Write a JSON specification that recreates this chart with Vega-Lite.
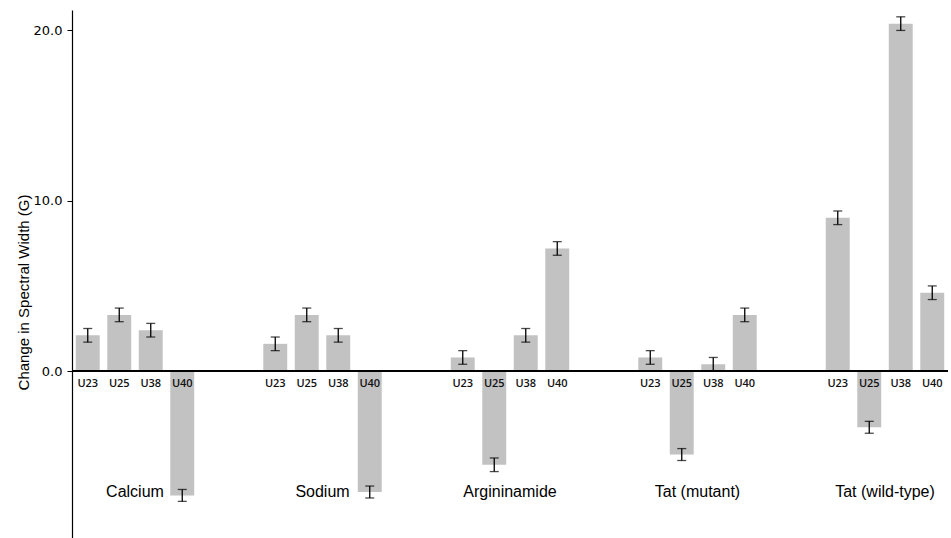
{
  "$schema": "https://vega.github.io/schema/vega-lite/v6.json",
  "width": 876,
  "height": 528,
  "autosize": "none",
  "padding": {"left": 72, "top": 10, "right": 3, "bottom": 0},
  "background": "white",
  "config": {"view": {"stroke": null}},
  "data": {
    "values": [
      {"group": "Calcium", "site": "U23", "value": 2.1, "err": 0.4},
      {"group": "Calcium", "site": "U25", "value": 3.3, "err": 0.4},
      {"group": "Calcium", "site": "U38", "value": 2.4, "err": 0.4},
      {"group": "Calcium", "site": "U40", "value": -7.3, "err": 0.35},
      {"group": "Sodium", "site": "U23", "value": 1.6, "err": 0.4},
      {"group": "Sodium", "site": "U25", "value": 3.3, "err": 0.4},
      {"group": "Sodium", "site": "U38", "value": 2.1, "err": 0.4},
      {"group": "Sodium", "site": "U40", "value": -7.1, "err": 0.35},
      {"group": "Argininamide", "site": "U23", "value": 0.8, "err": 0.4},
      {"group": "Argininamide", "site": "U25", "value": -5.5, "err": 0.4},
      {"group": "Argininamide", "site": "U38", "value": 2.1, "err": 0.4},
      {"group": "Argininamide", "site": "U40", "value": 7.2, "err": 0.4},
      {"group": "Tat (mutant)", "site": "U23", "value": 0.8, "err": 0.4},
      {"group": "Tat (mutant)", "site": "U25", "value": -4.9, "err": 0.35},
      {"group": "Tat (mutant)", "site": "U38", "value": 0.4, "err": 0.4},
      {"group": "Tat (mutant)", "site": "U40", "value": 3.3, "err": 0.4},
      {"group": "Tat (wild-type)", "site": "U23", "value": 9.0, "err": 0.4},
      {"group": "Tat (wild-type)", "site": "U25", "value": -3.3, "err": 0.35},
      {"group": "Tat (wild-type)", "site": "U38", "value": 20.4, "err": 0.4},
      {"group": "Tat (wild-type)", "site": "U40", "value": 4.6, "err": 0.4}
    ]
  },
  "encoding": {
    "x": {
      "field": "group",
      "type": "nominal",
      "sort": null,
      "axis": null,
      "scale": {"paddingInner": 0.328, "paddingOuter": 0}
    }
  },
  "layer": [
    {
      "mark": {"type": "bar", "color": "#c2c2c2"},
      "encoding": {
        "xOffset": {"field": "site", "type": "nominal", "scale": {"paddingInner": 0.24, "paddingOuter": 0.12}},
        "y": {
          "field": "value",
          "type": "quantitative",
          "title": "Change in Spectral Width (G)",
          "scale": {"domain": [-9.8, 21.2], "nice": false, "zero": false},
          "axis": {
            "values": [0, 10, 20],
            "format": ".1f",
            "grid": false,
            "domainColor": "#000",
            "domainWidth": 1.2,
            "tickColor": "#000",
            "tickSize": 5,
            "labelFont": "DejaVu Sans",
            "labelFontSize": 13,
            "labelColor": "#000",
            "labelPadding": 5,
            "titleFont": "Liberation Sans",
            "titleFontSize": 15,
            "titleFontWeight": "normal",
            "titleColor": "#000",
            "titleAngle": 270,
            "titleAlign": "center",
            "titleBaseline": "middle",
            "titleX": -49,
            "titleY": 282
          }
        }
      }
    },
    {
      "mark": {"type": "rule", "color": "#000", "strokeWidth": 1.3},
      "encoding": {"y": {"datum": 0}, "x": null}
    },
    {
      "mark": {"type": "errorbar", "ticks": {"size": 9, "color": "#000", "thickness": 1.3}, "rule": {"color": "#000", "strokeWidth": 1.3}},
      "encoding": {
        "xOffset": {"field": "site", "type": "nominal"},
        "y": {"field": "value", "type": "quantitative", "title": "Change in Spectral Width (G)"},
        "yError": {"field": "err"}
      }
    },
    {
      "mark": {"type": "text", "baseline": "top", "dy": 7, "font": "Open Sans", "fontSize": 11, "fontWeight": 600, "color": "#111"},
      "encoding": {
        "xOffset": {"field": "site", "type": "nominal"},
        "y": {"datum": 0},
        "text": {"field": "site"}
      }
    },
    {
      "transform": [{"filter": "datum.site == 'U23'"}],
      "mark": {"type": "text", "baseline": "middle", "font": "Liberation Sans", "fontSize": 16, "color": "#000"},
      "encoding": {
        "y": {"datum": -7.1},
        "text": {"field": "group"}
      }
    }
  ]
}
